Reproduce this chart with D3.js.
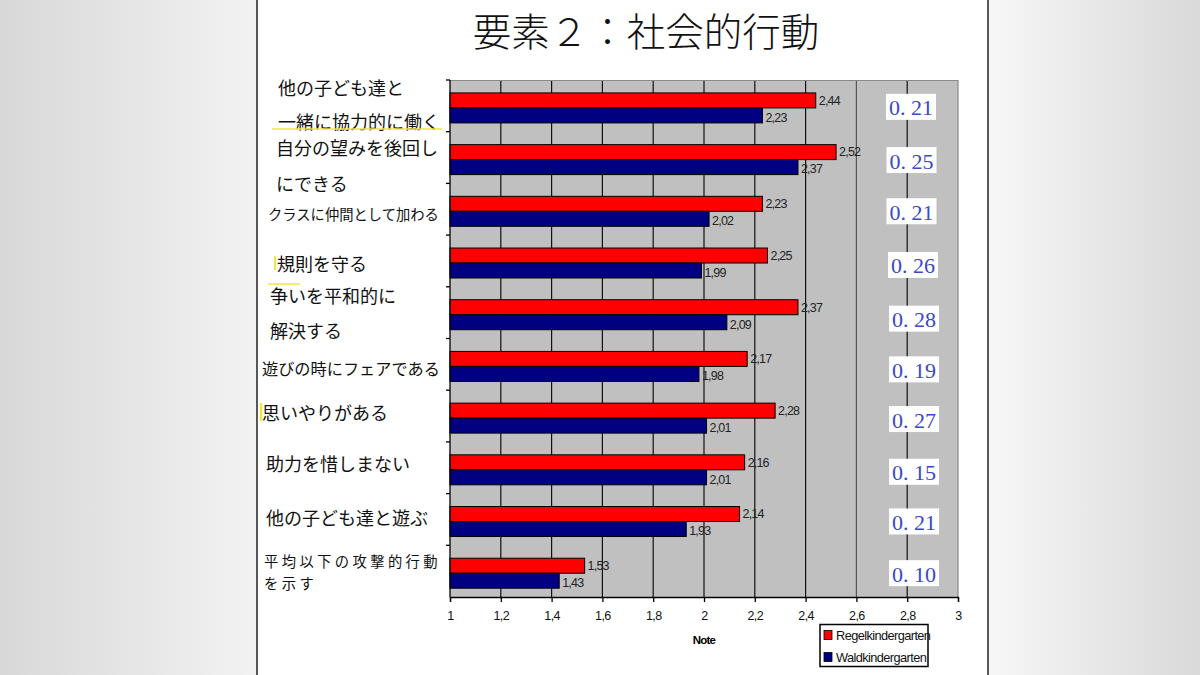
<!DOCTYPE html>
<html><head><meta charset="utf-8">
<script src="https://cdn.jsdelivr.net/npm/d3@7/dist/d3.min.js"></script>
<style>body{margin:0;padding:0;overflow:hidden;background:#fff}svg{display:block}</style>
</head><body>
<svg id="c" width="1200" height="675"></svg>
<script>
// ---- data ----
const categories = [
  "他の子ども達と一緒に協力的に働く",
  "自分の望みを後回しにできる",
  "クラスに仲間として加わる",
  "規則を守る",
  "争いを平和的に解決する",
  "遊びの時にフェアである",
  "思いやりがある",
  "助力を惜しまない",
  "他の子ども達と遊ぶ",
  "平均以下の攻撃的行動を示す"
];
const labelLines = [
  ["他の子ども達と", "一緒に協力的に働く"],
  ["自分の望みを後回し", "にできる"],
  ["クラスに仲間として加わる"],
  ["規則を守る"],
  ["争いを平和的に", "解決する"],
  ["遊びの時にフェアである"],
  ["思いやりがある"],
  ["助力を惜しまない"],
  ["他の子ども達と遊ぶ"],
  ["平均以下の攻撃的行動", "を示す"]
];
const regel = [2.44, 2.52, 2.23, 2.25, 2.37, 2.17, 2.28, 2.16, 2.14, 1.53];
const wald  = [2.23, 2.37, 2.02, 1.99, 2.09, 1.98, 2.01, 2.01, 1.93, 1.43];
const diffs = ["0. 21", "0. 25", "0. 21", "0. 26", "0. 28", "0. 19", "0. 27", "0. 15", "0. 21", "0. 10"];
const xTicks = [1, 1.2, 1.4, 1.6, 1.8, 2, 2.2, 2.4, 2.6, 2.8, 3];
const seriesNames = ["Regelkindergarten", "Waldkindergarten"];
const title = "要素２：社会的行動";
const axisTitle = "Note";

// ---- layout (not data) ----
const labelLayout = [
  {x:278, dy:[-19, 15], size:18},
  {x:276, dy:[-10.5, 25.5], size:18},
  {x:268, dy:[4], size:14.3},
  {x:277, dy:[2], size:18},
  {x:270, dy:[-18, 17], size:18},
  {x:262, dy:[4], size:16.2},
  {x:262, dy:[-4], size:18},
  {x:266, dy:[-5], size:18},
  {x:266, dy:[-2], size:18},
  {x:264, dy:[-11, 11], size:14.3, ls:3.4}
];
const diffDy = [1, 2.5, 2, 4, 6, 5, 3, 4, 2, 2];
const diffDx = [0, 1, 1, 4, 6, 6, 6, 6, 6, 6];
const colors = ["#ff0000", "#000080"];

const svg = d3.select("#c");
const defs = svg.append("defs");
const gl = defs.append("linearGradient").attr("id","bg").attr("x1","0").attr("x2","1");
gl.append("stop").attr("offset","0").attr("stop-color","#d8d8d8");
gl.append("stop").attr("offset","0.21").attr("stop-color","#f2f2f2");
gl.append("stop").attr("offset","0.83").attr("stop-color","#f6f6f6");
gl.append("stop").attr("offset","1").attr("stop-color","#d9d9d9");
svg.append("rect").attr("width",1200).attr("height",675).attr("fill","url(#bg)");
svg.append("rect").attr("x",257).attr("y",0).attr("width",731).attr("height",675).attr("fill","#fff");
svg.append("line").attr("x1",257).attr("x2",257).attr("y1",0).attr("y2",675).attr("stroke","#222").attr("stroke-width",1.5);
svg.append("line").attr("x1",988).attr("x2",988).attr("y1",0).attr("y2",675).attr("stroke","#222").attr("stroke-width",1.5);

// title
svg.append("text").attr("x",646).attr("y",46).attr("text-anchor","middle")
  .attr("font-family","'Noto Sans CJK JP'").attr("font-weight",300)
  .attr("font-size",38.5).attr("fill","#111").text(title);

const x = d3.scaleLinear().domain([1,3]).range([450,958]);
const y = d3.scaleBand().domain(categories).range([80,597]).paddingInner(0);
const bw = y.bandwidth();

// plot bg
svg.append("rect").attr("x",x(1)).attr("y",80).attr("width",x(3)-x(1)).attr("height",517).attr("fill","#c0c0c0");
// grid
svg.append("g").selectAll("line").data(xTicks.filter(t=>t>1 && t<3)).join("line")
  .attr("x1",d=>x(d)).attr("x2",d=>x(d)).attr("y1",80).attr("y2",597)
  .attr("stroke",d=>Math.abs(d-2.6)<1e-9?"#555":"#111").attr("stroke-width",1.2);
// plot border top/right
svg.append("path").attr("d",`M${x(1)},80.5H${x(3)}V597`).attr("fill","none").attr("stroke","#8a8a8a").attr("stroke-width",1.2);

// bars
const g = svg.append("g");
g.selectAll("rect.r").data(categories).join("rect").attr("class","r")
  .attr("x",x(1)).attr("y",d=>y(d)+bw*0.25).attr("height",bw*0.29)
  .attr("width",(d,i)=>x(regel[i])-x(1)).attr("fill",colors[0]).attr("stroke","#000").attr("stroke-width",1);
g.selectAll("rect.w").data(categories).join("rect").attr("class","w")
  .attr("x",x(1)).attr("y",d=>y(d)+bw*0.54).attr("height",bw*0.29)
  .attr("width",(d,i)=>x(wald[i])-x(1)).attr("fill",colors[1]).attr("stroke","#000").attr("stroke-width",1);
const fmt = v => v.toFixed(2).replace(".", ",");
g.selectAll("text.rv").data(categories).join("text").attr("class","rv")
  .attr("x",(d,i)=>x(regel[i])+3).attr("y",d=>y(d)+bw*0.25+bw*0.145+1)
  .attr("dominant-baseline","middle")
  .attr("font-family","'Liberation Sans',Arial").attr("font-size",12.5).attr("letter-spacing",-0.8)
  .attr("fill","#222").text((d,i)=>fmt(regel[i]));
g.selectAll("text.wv").data(categories).join("text").attr("class","wv")
  .attr("x",(d,i)=>x(wald[i])+3).attr("y",d=>y(d)+bw*0.54+bw*0.145+3)
  .attr("dominant-baseline","middle")
  .attr("font-family","'Liberation Sans',Arial").attr("font-size",12.5).attr("letter-spacing",-0.8)
  .attr("fill","#222").text((d,i)=>fmt(wald[i]));

// left axis
svg.append("line").attr("x1",450).attr("x2",450).attr("y1",80).attr("y2",597).attr("stroke","#000").attr("stroke-width",1.3);
svg.append("g").selectAll("line").data(categories).join("line")
  .attr("x1",446).attr("x2",450).attr("y1",d=>y(d)).attr("y2",d=>y(d)).attr("stroke","#000").attr("stroke-width",1.3);

// bottom axis
const ax = svg.append("g").attr("transform","translate(0,597)")
  .call(d3.axisBottom(x).tickValues(xTicks).tickSize(5).tickPadding(9).tickFormat(d=>String(d).replace(".",",")));
ax.select(".domain").attr("stroke","#000").attr("stroke-width",1.3);
ax.selectAll(".tick line").attr("stroke","#000").attr("stroke-width",1.3);
ax.selectAll(".tick text").attr("font-family","'Liberation Sans',Arial").attr("font-size",12.5)
  .attr("letter-spacing",-0.6).attr("fill","#111");
svg.append("text").attr("x",704).attr("y",644).attr("text-anchor","middle")
  .attr("font-family","'Liberation Sans',Arial").attr("font-weight","bold").attr("font-size",11.5)
  .attr("letter-spacing",-0.8).attr("fill","#000").text(axisTitle);

// category labels
const lg = svg.append("g").attr("font-family","'Noto Sans CJK JP'").attr("fill","#111");
labelLines.forEach((lines,i)=>{
  const L = labelLayout[i];
  const cy = y(categories[i]) + bw/2;
  lines.forEach((t,j)=>{
    lg.append("text").attr("x",L.x).attr("y",cy+L.dy[j]).attr("dominant-baseline","central")
      .attr("font-size",L.size).attr("letter-spacing",L.ls||0).text(t);
  });
});
// yellow highlighter marks
svg.append("line").attr("x1",272).attr("x2",442).attr("y1",129).attr("y2",129).attr("stroke","#f2e53c").attr("stroke-width",1.5);
svg.append("line").attr("x1",275).attr("x2",275).attr("y1",256).attr("y2",270).attr("stroke","#f2e53c").attr("stroke-width",2);
svg.append("line").attr("x1",268).attr("x2",300).attr("y1",284).attr("y2",284).attr("stroke","#f2e53c").attr("stroke-width",1.5);
svg.append("line").attr("x1",261).attr("x2",261).attr("y1",403).attr("y2",421).attr("stroke","#f2e53c").attr("stroke-width",2.5);

// diff labels
const dg = svg.append("g");
diffs.forEach((t,i)=>{
  const cy = y(categories[i]) + bw/2 + diffDy[i];
  const cx = 911 + diffDx[i]*0.5;
  dg.append("rect").attr("x",cx-25).attr("y",cy-13).attr("width",50).attr("height",26).attr("fill","#fff");
  dg.append("text").attr("x",cx).attr("y",cy+1).attr("text-anchor","middle").attr("dominant-baseline","central")
    .attr("font-family","'Liberation Serif','DejaVu Serif',serif").attr("font-size",22)
    .attr("fill","#3a48c8").text(t);
});

// legend
const leg = svg.append("g");
leg.append("rect").attr("x",820).attr("y",624.5).attr("width",108).attr("height",42).attr("fill","#fff")
  .attr("stroke","#000").attr("stroke-width",1.5);
seriesNames.forEach((s,i)=>{
  const yy = 635 + i*22;
  leg.append("rect").attr("x",824).attr("y",yy-4.5).attr("width",8).attr("height",9).attr("fill",colors[i]).attr("stroke","#000").attr("stroke-width",0.8);
  leg.append("text").attr("x",836).attr("y",yy).attr("dominant-baseline","central")
    .attr("font-family","'Liberation Sans',Arial").attr("font-size",12.8).attr("letter-spacing",-0.6)
    .attr("fill","#111").text(s);
});
</script>
</body></html>
